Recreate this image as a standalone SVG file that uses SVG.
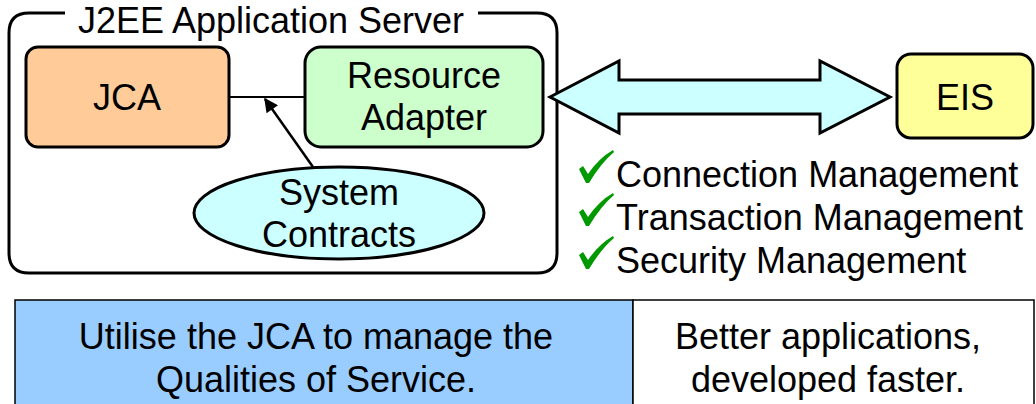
<svg xmlns="http://www.w3.org/2000/svg" width="1036" height="404" viewBox="0 0 1036 404">
<defs>
<style>
text{font-family:"Liberation Sans",Arial,sans-serif;font-size:36px;fill:#000}
.c{text-anchor:middle}
.box{stroke:#000;stroke-width:3}
.chk{fill:#009900}
</style>
<marker id="ah" viewBox="0 0 10 10" refX="9" refY="5" markerWidth="16" markerHeight="14" markerUnits="userSpaceOnUse" orient="auto"><path d="M0,0 L10,5 L0,10 z" fill="#000"/></marker>
<path id="check" d="M0,19 L4,16 L9,24 Q20,8 34,0 L35,2 Q22,13 10,33 L7,33 Z"/>
</defs>
<rect width="1036" height="404" fill="#fff"/>
<g id="server">
<path d="M65,13 L29,13 Q9,13 9,33 L9,253 Q9,273 29,273 L537,273 Q557,273 557,253 L557,33 Q557,13 537,13 L478,13" fill="none" stroke="#000" stroke-width="3"/>
<text x="271" y="33" class="c">J2EE Application Server</text>
</g>
<g id="connectors">
<line x1="229" y1="97" x2="305" y2="97" stroke="#000" stroke-width="2"/>
<line x1="313" y1="167" x2="265" y2="99" stroke="#000" stroke-width="2.5" marker-end="url(#ah)"/>
<path d="M550,97 L619,61 L619,80 L820,80 L820,61 L890,97 L820,133 L820,114 L619,114 L619,133 Z" fill="#ccffff" stroke="#000" stroke-width="3"/>
</g>
<g id="jca">
<rect x="26" y="47" width="203" height="100" rx="12" fill="#ffcc99" class="box"/>
<text x="127" y="110" class="c">JCA</text>
</g>
<g id="resource-adapter">
<rect x="305" y="47" width="238" height="100" rx="16" fill="#ccffcc" class="box"/>
<text x="424" y="88" class="c">Resource</text>
<text x="424" y="130" class="c">Adapter</text>
</g>
<g id="system-contracts">
<ellipse cx="339" cy="213" rx="145" ry="46" fill="#ccffff" class="box"/>
<text x="339" y="205" class="c">System</text>
<text x="339" y="247" class="c">Contracts</text>
</g>
<g id="eis">
<rect x="897" y="54" width="136" height="84" rx="14" fill="#ffff99" class="box"/>
<text x="965" y="110" class="c">EIS</text>
</g>
<g id="features">
<use href="#check" x="579" y="150" class="chk"/>
<use href="#check" x="579" y="193" class="chk"/>
<use href="#check" x="579" y="236" class="chk"/>
<text x="616" y="187">Connection Management</text>
<text x="616" y="230">Transaction Management</text>
<text x="616" y="273">Security Management</text>
</g>
<g id="table">
<rect x="15" y="300" width="618" height="110" fill="#99ccff" stroke="#000" stroke-width="1.5"/>
<rect x="633" y="300" width="401" height="110" fill="#fff" stroke="#000" stroke-width="1.5"/>
<text x="316" y="349" class="c">Utilise the JCA to manage the</text>
<text x="316" y="392" class="c">Qualities of Service.</text>
<text x="828" y="349" class="c">Better applications,</text>
<text x="828" y="392" class="c">developed faster.</text>
</g>
</svg>
